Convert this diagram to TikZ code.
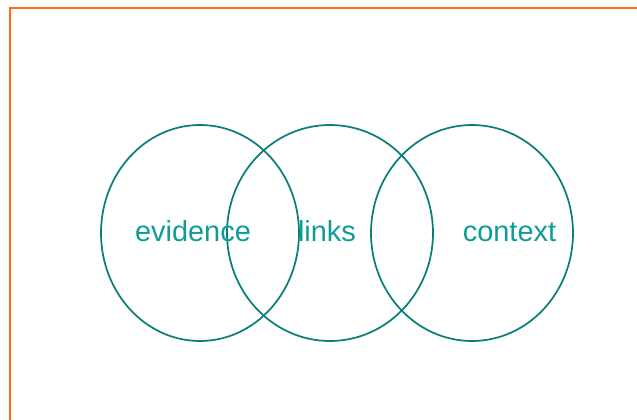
\documentclass[tikz,border=0pt]{standalone}
\usepackage{fontspec}
\setmainfont{Liberation Sans}
\usetikzlibrary{shapes.geometric}
\definecolor{frameorange}{HTML}{FF6A13}
\definecolor{ringteal}{HTML}{0A7F7A}
\definecolor{textteal}{HTML}{0E9C98}
\begin{document}
\begin{tikzpicture}[x=0.75pt,y=-0.75pt,
  ring/.style={draw=ringteal,line width=1.3pt,ellipse,inner sep=0pt,outer sep=0pt},
  lbl/.style={text=textteal,font=\fontsize{21.7}{26}\selectfont,inner sep=0pt,anchor=base}]
\useasboundingbox (0,0) rectangle (637,420);
\coordinate (fb) at (10,421);
\coordinate (fc) at (10,8);
\coordinate (fr) at (638,8);
\draw[frameorange,line width=1.6pt] (fb) -- (fc) -- (fr);
\node[ring,minimum width=148.5pt,minimum height=162pt] (c1) at (200,233) {};
\node[ring,minimum width=154.5pt,minimum height=162pt] (c2) at (330,233) {};
\node[ring,minimum width=151.5pt,minimum height=162pt] (c3) at (472,233) {};
\node[lbl] (ev) at (193,242) {evidence};
\node[lbl] (lk) at (327,242) {links};
\node[lbl] (cx) at (509.5,242) {context};
\end{tikzpicture}
\end{document}
